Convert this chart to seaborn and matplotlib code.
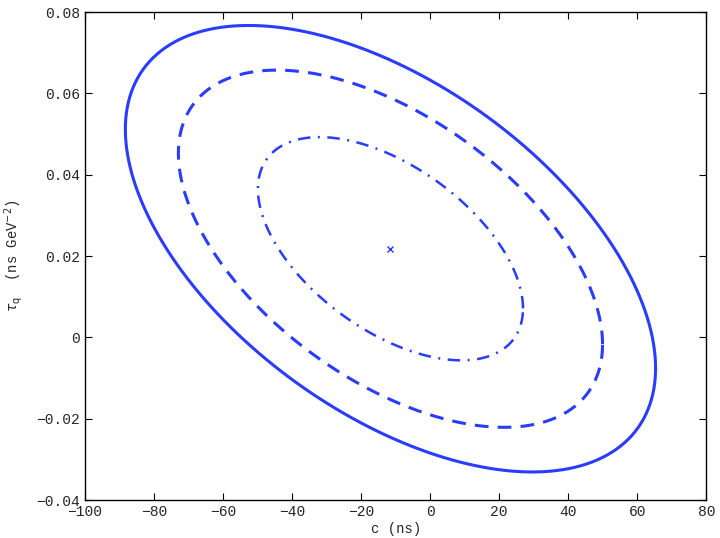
import numpy as np
import pandas as pd
import matplotlib
matplotlib.use("Agg")
import matplotlib.pyplot as plt
import seaborn as sns

# best-fit point and error ellipse parameters
best_c = -11.5
best_tau = 0.0218
sigma_c = 38.4
sigma_tau = 0.02745
rho = -0.535

# contour scale (in units of sigma) and line style per contour
contour_scale = [2.0, 1.6, 1.0]
contour_style = ["-", "--", "-."]

ytick_labels = ["\u22120.04", "\u22120.02", "0", "0.02", "0.04", "0.06", "0.08"]

sns.set_style("white")
plt.rcParams["font.family"] = ["Liberation Mono", "DejaVu Sans Mono"]

blue = "#2a3cff"

# build contour points from the covariance matrix
cov = np.array([[sigma_c ** 2, rho * sigma_c * sigma_tau],
                [rho * sigma_c * sigma_tau, sigma_tau ** 2]])
L = np.linalg.cholesky(cov)
t = np.linspace(0, 2 * np.pi, 400)
circle = np.vstack([np.cos(t), np.sin(t)])

rows = []
for k, s in enumerate(contour_scale):
    pts = s * (L @ circle)
    rows.append(pd.DataFrame({"c": best_c + pts[0], "tau": best_tau + pts[1],
                              "level": k, "order": np.arange(len(t))}))
df = pd.concat(rows)

fig = plt.figure(figsize=(7.2, 5.38), dpi=100)
ax = fig.add_axes([0.118, 0.0706, 0.863, 0.907])

for k, ls in enumerate(contour_style):
    sub = df[df["level"] == k]
    lw = 2.2 if ls != "-." else 1.8
    sns.lineplot(data=sub, x="c", y="tau", sort=False, estimator=None,
                 color=blue, linewidth=lw, linestyle=ls, ax=ax)
    if ls == "--":
        ax.lines[-1].set_dashes([4.5, 3])
    if ls == "-.":
        ax.lines[-1].set_dashes([5, 3, 0.8, 3])

ax.plot([best_c], [best_tau], "x", color=blue, markersize=5, mew=1)

ax.set_xlim(-100, 80)
ax.set_ylim(-0.04, 0.08)
ax.set_xticks(np.arange(-100, 81, 20))
ax.set_yticks(np.arange(-0.04, 0.081, 0.02))
ax.set_yticklabels(ytick_labels)
ax.tick_params(direction="in", length=5, width=0.8, labelsize=10.5, color="black",
               top=True, right=True, bottom=True, left=True,
               labeltop=False, labelright=False)
for sp in ax.spines.values():
    sp.set_color("black")
    sp.set_linewidth(1.0)

ax.set_xlabel("c (ns)", fontsize=10, labelpad=2)
ax.set_ylabel(r"$\tau_{\rm q}$  (ns GeV$^{-2}$)", fontsize=10, labelpad=8)

fig.savefig("out.png", dpi=100)
